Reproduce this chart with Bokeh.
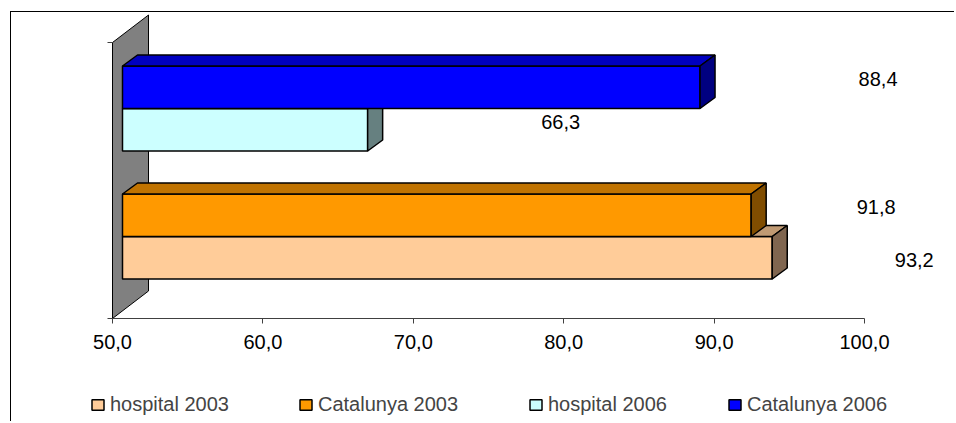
from bokeh.plotting import figure
from bokeh.models import (Range1d, LinearAxis, FixedTicker, ColumnDataSource,
                          Legend, LegendItem)
from bokeh.core.properties import value
from bokeh.embed import file_html
from bokeh.resources import INLINE

# ---------------- data ----------------
groups = ["2003", "2006"]
series_names = ["hospital 2003", "Catalunya 2003", "hospital 2006", "Catalunya 2006"]
series_values = [93.2, 91.8, 66.3, 88.4]
series_group = [0, 0, 1, 1]
series_slot = [0, 1, 0, 1]          # 0 = lower bar of the group, 1 = upper bar
x_ticks = [50, 60, 70, 80, 90, 100]
x_tick_labels = ["50,0", "60,0", "70,0", "80,0", "90,0", "100,0"]

# ---------------- style ----------------
front_colors = ["#FFCC99", "#FF9900", "#CCFFFF", "#0000FF"]
top_colors = ["#C09A73", "#C07300", "#99C0C0", "#0000C0"]
side_colors = ["#806650", "#804D00", "#668080", "#000080"]
label_dx_px = [142, 125, 193, 178]   # label offset from bar end (px)
label_dy_px = [2, -8.5, -8, -8.5]    # label offset from bar centre (px, + = down)
legend_x_px = [79, 287, 517, 716]    # legend entry positions (px from left)
FONT = "Liberation Sans"
FS = "20px"

W, H = 944, 410
AXIS_PX = 306         # px from top of the figure to the category-axis floor
PX_X = 15.04          # px per x unit
AX0_PX = 101          # px position of x = 50 inside the frame
PX_Y = 128            # px per category step
x_start = 50 - AX0_PX / PX_X
x_end = x_start + W / PX_X
y_end = 1 + 96 / PX_Y
y_start = y_end - H / PX_Y
y_axis = y_end - AXIS_PX / PX_Y

bar_h = 42.5 / PX_Y
shift_x = 10 / PX_X
dep_x = 15 / PX_X
dep_y = 11 / PX_Y
wall_dx = 36 / PX_X
wall_dy = 27.5 / PX_Y
wall_top = y_end - 30 / PX_Y

p = figure(width=W, height=H, output_backend="svg", toolbar_location=None,
           x_range=Range1d(x_start, x_end), y_range=Range1d(y_start, y_end),
           x_axis_type=None, y_axis_type=None, title=None,
           min_border_left=0, min_border_right=0, min_border_top=0,
           min_border_bottom=0)
p.margin = (12, 0, 0, 11)
p.styles = {"box-shadow": "-1px -1px 0 0 #000"}
p.grid.visible = False
p.outline_line_color = None
p.background_fill_color = "white"
p.border_fill_color = "white"

# back wall
p.patch(x=[50, 50 + wall_dx, 50 + wall_dx, 50],
        y=[y_axis, y_axis + wall_dy, wall_top + wall_dy, wall_top],
        fill_color="#808080", line_color="black", line_width=1)
# small category-axis ticks on the left of the wall
p.segment(x0=[50 - 5 / PX_X] * 2, x1=[50] * 2,
          y0=[wall_top, y_axis], y1=[wall_top, y_axis],
          line_color="#404040", line_width=1)

front_renderers = []
for i, v in enumerate(series_values):
    g = series_group[i]
    y0 = g + (series_slot[i] - 1) * bar_h
    y1 = y0 + bar_h
    x0 = 50 + shift_x
    x1 = v + shift_x
    src = ColumnDataSource(dict(left=[x0], right=[x1], bottom=[y0], top=[y1]))
    r = p.quad(left="left", right="right", bottom="bottom", top="top", source=src,
               fill_color=front_colors[i], line_color="black", line_width=1.5)
    front_renderers.append(r)
    p.patch(x=[x0, x0 + dep_x, x1 + dep_x, x1], y=[y1, y1 + dep_y, y1 + dep_y, y1],
            fill_color=top_colors[i], line_color="black", line_width=1.5)
    p.patch(x=[x1, x1 + dep_x, x1 + dep_x, x1], y=[y0, y0 + dep_y, y1 + dep_y, y1],
            fill_color=side_colors[i], line_color="black", line_width=1.5)

# data labels
lx, ly, lt = [], [], []
for i, v in enumerate(series_values):
    g = series_group[i]
    y0 = g + (series_slot[i] - 1) * bar_h
    lx.append(v + shift_x + label_dx_px[i] / PX_X)
    ly.append(y0 + bar_h / 2 - label_dy_px[i] / PX_Y)
    lt.append(f"{v:.1f}".replace(".", ","))
p.text(x=lx, y=ly, text=lt, text_font=value(FONT), text_font_size=FS,
       text_align="center", text_baseline="middle", text_color="black")

# x axis, fixed at the floor of the chart
xaxis = LinearAxis(ticker=FixedTicker(ticks=x_ticks),
                   major_label_overrides={t: s for t, s in zip(x_ticks, x_tick_labels)},
                   bounds=(50, 100), fixed_location=y_axis)
xaxis.axis_line_color = "#404040"
xaxis.major_tick_line_color = "#404040"
xaxis.major_tick_in = 0
xaxis.major_tick_out = 5
xaxis.minor_tick_line_color = None
xaxis.major_label_standoff = 11
xaxis.major_label_text_font = FONT
xaxis.major_label_text_font_size = FS
xaxis.major_label_text_color = "black"
p.add_layout(xaxis, "below")

# legend: one entry per series, laid out in a row under the axis
for i, n in enumerate(series_names):
    leg = Legend(items=[LegendItem(label=n, renderers=[front_renderers[i]])],
                 orientation="horizontal", location=(legend_x_px[i], 6),
                 border_line_color=None, background_fill_alpha=0,
                 padding=0, margin=0, spacing=0, label_standoff=5,
                 glyph_width=15, glyph_height=13,
                 label_text_font=FONT, label_text_font_size=FS)
    p.add_layout(leg)

open("out.html", "w").write(file_html(p, INLINE))
